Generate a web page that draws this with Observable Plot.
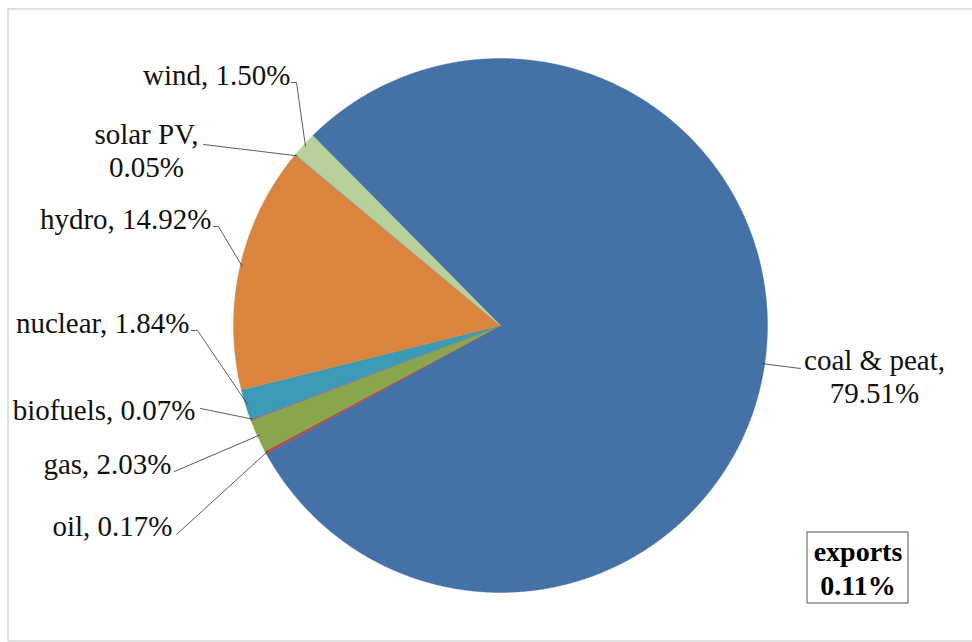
<!DOCTYPE html>
<html>
<head>
<meta charset="utf-8">
<script src="https://cdn.jsdelivr.net/npm/d3@7"></script>
<script src="https://cdn.jsdelivr.net/npm/@observablehq/plot@0.6"></script>
<style>
  html, body { margin: 0; padding: 0; background: #fff; }
  #chart svg { display: block; }
</style>
</head>
<body>
<div id="chart"></div>
<script>
// Electricity generation shares by source (percent of total)
const categories = ["coal & peat", "oil", "gas", "biofuels", "nuclear", "hydro", "solar PV", "wind"];
const shares = [79.51, 0.17, 2.03, 0.07, 1.84, 14.92, 0.05, 1.50];
const sliceColors = ["#4471a6", "#b94742", "#8aa64c", "#7d5f9c", "#3c9ab4", "#da843e", "#6f9fd4", "#b8d09a"];
const exportsLabel = "exports";
const exportsShare = 0.11;
// labels that break after the category name
const wrapped = ["coal & peat", "solar PV"];

// ---- layout ----
const W = 972, H = 642;
const cx = 500, cy = 325, R = 267;
const startDeg = -44.7;           // first slice begins here, clockwise from 12 o'clock
const font = "'Liberation Serif', 'Times New Roman', serif";
const fontSize = 29;

// label anchor (x, baseline of last line), text anchor, and leader path start
const labelLayout = {
  "wind":        {x: 290, y: 84,  anchor: "end",    lead: [[291, 82], [296, 82]]},
  "solar PV":    {x: 146, y: 176, anchor: "middle", lead: [[203, 144]]},
  "hydro":       {x: 211, y: 228, anchor: "end",    lead: [[213, 226], [218, 226]]},
  "nuclear":     {x: 189, y: 332, anchor: "end",    lead: [[191, 330], [197, 330]]},
  "biofuels":    {x: 195, y: 419, anchor: "end",    lead: [[200, 408]]},
  "gas":         {x: 171, y: 473, anchor: "end",    lead: [[174, 471]]},
  "oil":         {x: 172, y: 535, anchor: "end",    lead: [[176, 534]]},
  "coal & peat": {x: 874, y: 402, anchor: "middle", lead: [[800, 368]]}
};
const exportsBox = {x1: 807, x2: 908, y1: 532, y2: 603};

// ---- pie geometry ----
const rad = Math.PI / 180;
const arcs = d3.pie().sort(null).value(d => d)
  .startAngle(startDeg * rad).endAngle(startDeg * rad + 2 * Math.PI)(shares);

const polar = (a, r) => [cx + r * Math.sin(a), cy - r * Math.cos(a)];

const slicePoints = [];
arcs.forEach((a, i) => {
  const cat = categories[i];
  slicePoints.push({cat, x: cx, y: cy});
  const n = Math.max(2, Math.ceil((a.endAngle - a.startAngle) / (0.4 * rad)));
  for (let k = 0; k <= n; k++) {
    const t = a.startAngle + (a.endAngle - a.startAngle) * k / n;
    const [x, y] = polar(t, R);
    slicePoints.push({cat, x, y});
  }
});

// leader lines: from label to the slice's outer edge at its mid angle
const leaderPoints = [];
arcs.forEach((a, i) => {
  const cat = categories[i];
  const L = labelLayout[cat];
  L.lead.forEach(([x, y]) => leaderPoints.push({cat, x, y}));
  const [ex, ey] = polar((a.startAngle + a.endAngle) / 2, R - 2);
  leaderPoints.push({cat, x: ex, y: ey});
});

const labels = categories.map((cat, i) => {
  const L = labelLayout[cat];
  const pct = shares[i].toFixed(2) + "%";
  return {cat, x: L.x, y: L.y, anchor: L.anchor,
          text: wrapped.includes(cat) ? `${cat},\n${pct}` : `${cat}, ${pct}`};
});

const textOpts = {
  x: "x", y: "y", text: "text",
  fontFamily: font, fontSize, fill: "#111",
  lineAnchor: "bottom", lineHeight: 1.13
};

const chart = Plot.plot({
  width: W,
  height: H,
  margin: 0,
  style: {background: "#fff", overflow: "visible"},
  x: {domain: [0, W], range: [0, W], axis: null},
  y: {domain: [0, H], range: [0, H], axis: null},
  color: {domain: categories, range: sliceColors},
  marks: [
    Plot.frame({stroke: "#c4c4c4", insetLeft: 7.5, insetTop: 8.5, insetBottom: 1.5, insetRight: -5}),
    Plot.line(slicePoints, {x: "x", y: "y", z: "cat", fill: "cat", stroke: "cat",
                            strokeWidth: 0.4, curve: "linear-closed"}),
    Plot.line(leaderPoints, {x: "x", y: "y", z: "cat", stroke: "#333", strokeWidth: 0.8}),
    Plot.text(labels.filter(d => d.anchor === "end"), {...textOpts, textAnchor: "end"}),
    Plot.text(labels.filter(d => d.anchor === "middle"), {...textOpts, textAnchor: "middle"}),
    Plot.rect([exportsBox], {x1: "x1", x2: "x2", y1: "y1", y2: "y2", fill: "#fff", stroke: "#555", strokeWidth: 1}),
    Plot.text([{x: (exportsBox.x1 + exportsBox.x2) / 2, y: 594,
                text: `${exportsLabel}\n${exportsShare.toFixed(2)}%`}],
              {x: "x", y: "y", text: "text", fontFamily: font, fontSize: 28, fontWeight: "bold",
               fill: "#000", textAnchor: "middle", lineAnchor: "bottom", lineHeight: 1.18})
  ]
});

document.getElementById("chart").appendChild(chart);
</script>
</body>
</html>
